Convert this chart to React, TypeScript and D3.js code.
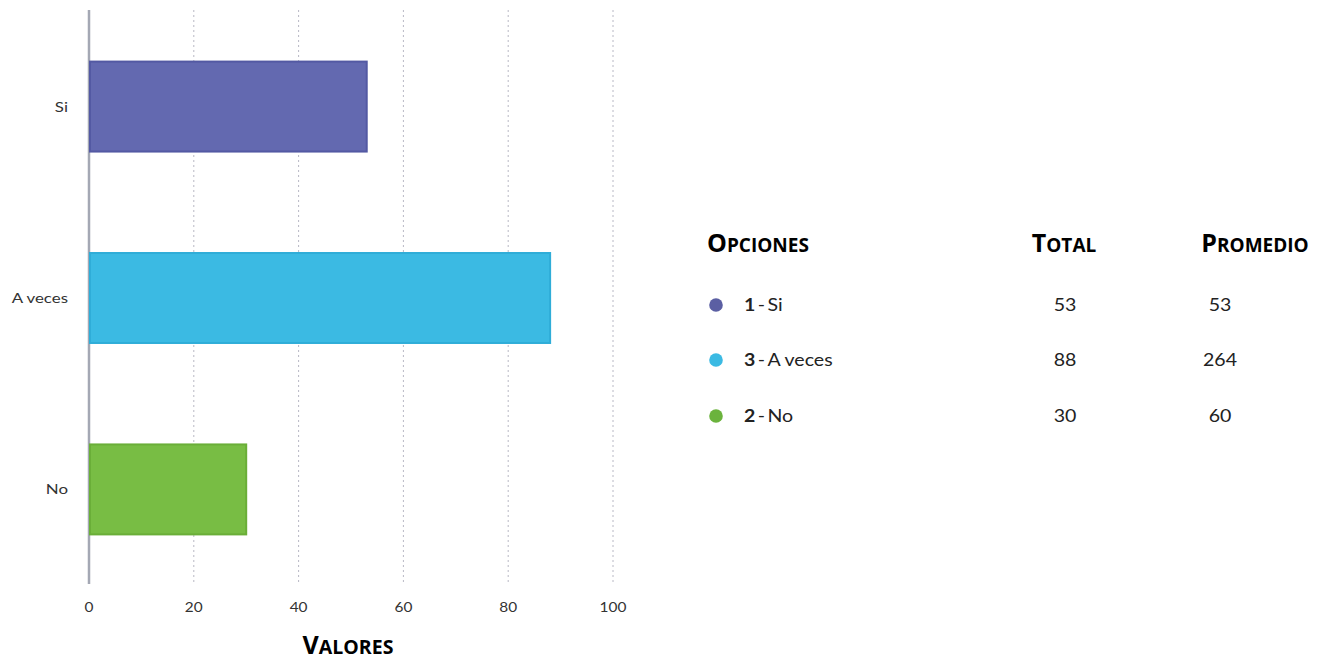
import React from "react";
import * as d3 from "d3";

const categories = ["Si", "A veces", "No"];
const values = [53, 88, 30];
const colors = ["#6369b0", "#3bbae3", "#78bd44"];
const strokeColors = ["#5359a3", "#2fadd8", "#6aae38"];
const xTicks = [0, 20, 40, 60, 80, 100];

const tableLabels = ["Si", "A veces", "No"];
const tableCodes = ["1", "3", "2"];
const tableTotals = [53, 88, 30];
const tablePromedios = [53, 264, 60];
const tableColors = ["#5b5fa3", "#3bbae3", "#6bb33d"];

const W = 1326;
const H = 662;
const plot = { left: 89, right: 613, top: 10, bottom: 584 };

const font = "Lato, 'Open Sans', sans-serif";
const headFont = "'Open Sans', 'Liberation Sans', sans-serif";

function T(props: {
  x: number;
  y: number;
  sx?: number;
  anchor?: string;
  size: number;
  fill?: string;
  children: React.ReactNode;
}) {
  const { x, y, sx = 1, anchor = "start", size, fill = "#222", children } = props;
  return (
    <text
      transform={`translate(${x},${y}) scale(${sx},1)`}
      textAnchor={anchor}
      fontFamily={font}
      fontSize={size}
      fill={fill}
    >
      {children}
    </text>
  );
}

export default function App() {
  const x = d3.scaleLinear().domain([0, 100]).range([plot.left, plot.right]);
  const y = d3
    .scaleBand<string>()
    .domain(categories)
    .range([8, 588])
    .paddingInner(0.53)
    .paddingOuter(0.28);

  const rowY = [305, 360, 416];

  const smallCaps = (first: string, rest: string, big: number, small: number) => (
    <>
      <tspan fontSize={big}>{first}</tspan>
      <tspan fontSize={small}>{rest}</tspan>
    </>
  );

  return (
    <svg
      width={W}
      height={H}
      style={{ position: "absolute", left: 0, top: 0, background: "#fff" }}
    >
      {/* grid lines */}
      {xTicks.slice(1).map((t) => (
        <line
          key={t}
          x1={x(t)}
          x2={x(t)}
          y1={plot.top}
          y2={plot.bottom}
          stroke="#b8b8c4"
          strokeWidth={1}
          strokeDasharray="2,3"
        />
      ))}
      {/* axis line */}
      <line
        x1={x(0)}
        x2={x(0)}
        y1={plot.top}
        y2={plot.bottom}
        stroke="#a4a8b4"
        strokeWidth={2.5}
      />
      {/* bars */}
      {categories.map((c, i) => (
        <rect
          key={c}
          x={x(0) + 1}
          y={y(c)}
          width={x(values[i]) - x(0) - 1}
          height={y.bandwidth()}
          fill={colors[i]}
          stroke={strokeColors[i]}
          strokeWidth={2}
        />
      ))}
      {/* category labels */}
      {categories.map((c) => (
        <T
          key={c}
          x={68}
          y={(y(c) ?? 0) + y.bandwidth() / 2 + 5}
          anchor="end"
          size={13}
          sx={1.3}
          fill="#333"
        >
          {c}
        </T>
      ))}
      {/* x tick labels */}
      {xTicks.map((t) => (
        <T key={t} x={x(t)} y={612} anchor="middle" size={14} sx={1.1} fill="#333">
          {t}
        </T>
      ))}
      {/* x axis title */}
      <text
        x={348}
        y={654}
        textAnchor="middle"
        fontFamily={headFont}
        fontWeight="bold"
        fill="#000"
      >
        {smallCaps("V", "ALORES", 25, 19.5)}
      </text>

      {/* table headers */}
      <text x={707} y={252} fontFamily={headFont} fontWeight="bold" fill="#000">
        {smallCaps("O", "PCIONES", 25, 19)}
      </text>
      <text
        x={1064}
        y={252}
        textAnchor="middle"
        fontFamily={headFont}
        fontWeight="bold"
        fill="#000"
      >
        {smallCaps("T", "OTAL", 25, 19)}
      </text>
      <text
        x={1255}
        y={252}
        textAnchor="middle"
        fontFamily={headFont}
        fontWeight="bold"
        fill="#000"
      >
        {smallCaps("P", "ROMEDIO", 25, 19)}
      </text>

      {/* table rows */}
      {tableLabels.map((l, i) => (
        <g key={l}>
          <circle cx={716} cy={rowY[i]} r={6.8} fill={tableColors[i]} />
          <T x={744} y={rowY[i] + 6} size={17} sx={1.15}>
            <tspan fontWeight="bold">{tableCodes[i]}</tspan>
            <tspan>{"\u2009-\u2009"}{l}</tspan>
          </T>
          <T x={1065} y={rowY[i] + 6} anchor="middle" size={17} sx={1.15}>
            {tableTotals[i]}
          </T>
          <T x={1220} y={rowY[i] + 6} anchor="middle" size={17} sx={1.15}>
            {tablePromedios[i]}
          </T>
        </g>
      ))}
    </svg>
  );
}
